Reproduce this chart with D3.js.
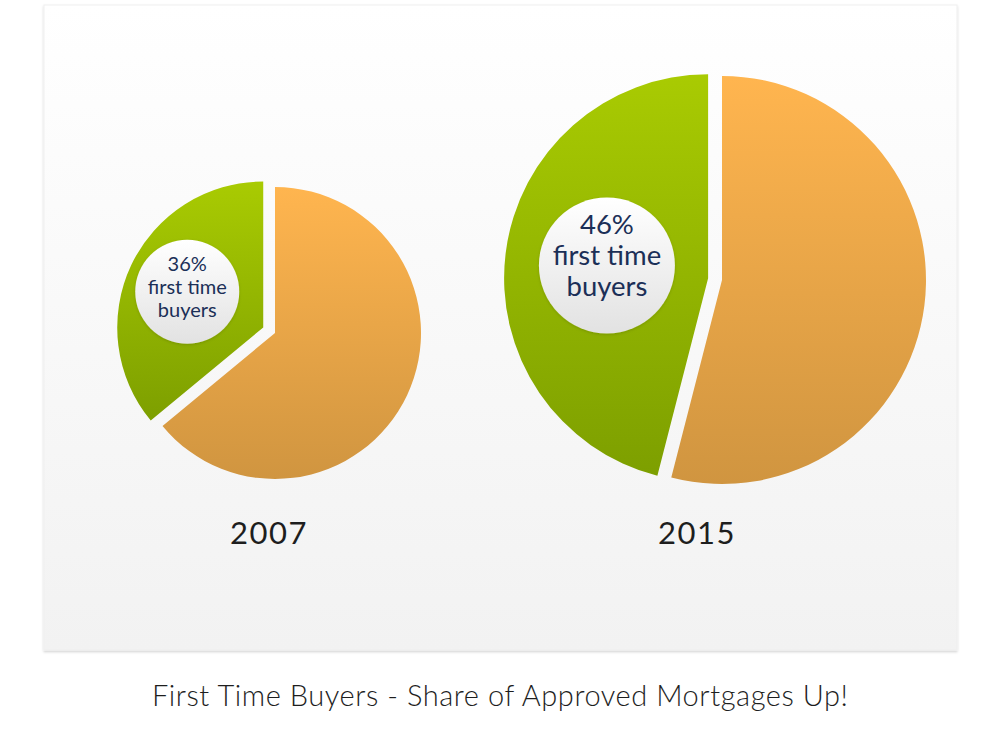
<!DOCTYPE html>
<html>
<head>
<meta charset="utf-8">
<script src="https://cdn.jsdelivr.net/npm/d3@7"></script>
<style>
  html, body { margin: 0; padding: 0; background: #ffffff; }
  svg { display: block; }
</style>
</head>
<body>
<svg id="chart" width="1000" height="749"></svg>
<script>
// ---- data ----
const years = ["2007", "2015"];
const firstTimeShare = [36, 46];          // % first time buyers
const otherShare = [64, 54];              // % other buyers
const labelLines = ["first time", "buyers"];
const chartTitle = "First Time Buyers - Share of Approved Mortgages Up!";

// ---- layout (positions / sizes / styles) ----
const W = 1000, H = 749;
const panel = { x: 44, y: 5, w: 913, h: 645 };
const pieLayout = [
  { cx: 275, cy: 333, r: 146, explode: 13, labelDist: 84, labelR: 52, font: 20, lineH: 23, lineOff: 2, yearX: 269, yearY: 544 },
  { cx: 722, cy: 280, r: 204, explode: 14, labelDist: 102, labelR: 68, font: 27.5, lineH: 31, lineOff: 0, yearX: 697, yearY: 544 }
];
const fontFamily = "Lato, 'Open Sans', 'DejaVu Sans', sans-serif";

const svg = d3.select("#chart");
const defs = svg.append("defs");

function linGrad(id, top, bottom) {
  const g = defs.append("linearGradient").attr("id", id)
    .attr("x1", 0).attr("y1", 0).attr("x2", 0).attr("y2", 1);
  g.append("stop").attr("offset", "0%").attr("stop-color", top);
  g.append("stop").attr("offset", "100%").attr("stop-color", bottom);
}
linGrad("panelGrad", "#ffffff", "#f2f2f2");
linGrad("greenGrad", "#a9cb02", "#7d9f00");
linGrad("orangeGrad", "#ffb54f", "#d09540");
linGrad("bubbleGrad", "#ffffff", "#e2e2e2");

const shadow = defs.append("filter").attr("id", "panelShadow")
  .attr("x", "-5%").attr("y", "-5%").attr("width", "110%").attr("height", "110%");
shadow.append("feDropShadow").attr("dx", 0).attr("dy", 1.5).attr("stdDeviation", 1.2)
  .attr("flood-color", "#000").attr("flood-opacity", 0.18);

const bubbleShadow = defs.append("filter").attr("id", "bubbleShadow")
  .attr("x", "-20%").attr("y", "-20%").attr("width", "140%").attr("height", "140%");
bubbleShadow.append("feDropShadow").attr("dx", 0).attr("dy", 1).attr("stdDeviation", 1.5)
  .attr("flood-color", "#000").attr("flood-opacity", 0.15);

// panel
svg.append("rect")
  .attr("x", panel.x).attr("y", panel.y).attr("width", panel.w).attr("height", panel.h)
  .attr("fill", "url(#panelGrad)")
  .attr("stroke", "#efefef").attr("stroke-width", 1)
  .attr("filter", "url(#panelShadow)");

// pies
const pie = d3.pie().sort(null).value(d => d.value);
const sliceFill = { other: "url(#orangeGrad)", first: "url(#greenGrad)" };

years.forEach((year, i) => {
  const L = pieLayout[i];
  const data = [
    { key: "other", value: otherShare[i] },
    { key: "first", value: firstTimeShare[i] }
  ];
  const arcs = pie(data);
  const arc = d3.arc().innerRadius(0).outerRadius(L.r);
  const g = svg.append("g").attr("transform", `translate(${L.cx},${L.cy})`);

  g.selectAll("path.slice").data(arcs).join("path")
    .attr("class", "slice")
    .attr("d", arc)
    .attr("fill", d => sliceFill[d.data.key])
    .attr("transform", d => {
      if (d.data.key !== "first") return null;
      const mid = (d.startAngle + d.endAngle) / 2;
      return `translate(${Math.sin(mid) * L.explode},${-Math.cos(mid) * L.explode})`;
    });

  // label bubble on the first-time slice
  const fa = arcs.find(d => d.data.key === "first");
  const mid = (fa.startAngle + fa.endAngle) / 2;
  const d0 = L.explode + L.labelDist;
  const bx = Math.sin(mid) * d0, by = -Math.cos(mid) * d0;
  const lg = g.append("g").attr("transform", `translate(${bx},${by})`);
  lg.append("circle").attr("r", L.labelR)
    .attr("fill", "url(#bubbleGrad)")
    .attr("filter", "url(#bubbleShadow)");
  const lines = [firstTimeShare[i] + "%"].concat(labelLines);
  lg.selectAll("text").data(lines).join("text")
    .attr("x", 0)
    .attr("y", (t, j) => (j - 1) * L.lineH + L.lineOff)
    .attr("text-anchor", "middle")
    .attr("font-family", fontFamily)
    .attr("font-size", L.font)
    .attr("fill", "#1b2f57")
    .text(t => t);

  // year label
  svg.append("text")
    .attr("x", L.yearX).attr("y", L.yearY)
    .attr("text-anchor", "middle")
    .attr("font-family", fontFamily)
    .attr("font-size", 31)
    .attr("letter-spacing", 1.5)
    .attr("fill", "#1e1e1e")
    .text(year);
});

// title
svg.append("text")
  .attr("x", 500).attr("y", 706)
  .attr("text-anchor", "middle")
  .attr("font-family", fontFamily)
  .attr("font-weight", 300)
  .attr("font-size", 29)
  .attr("textLength", 696)
  .attr("lengthAdjust", "spacing")
  .attr("fill", "#1e1e1e")
  .text(chartTitle);
</script>
</body>
</html>
